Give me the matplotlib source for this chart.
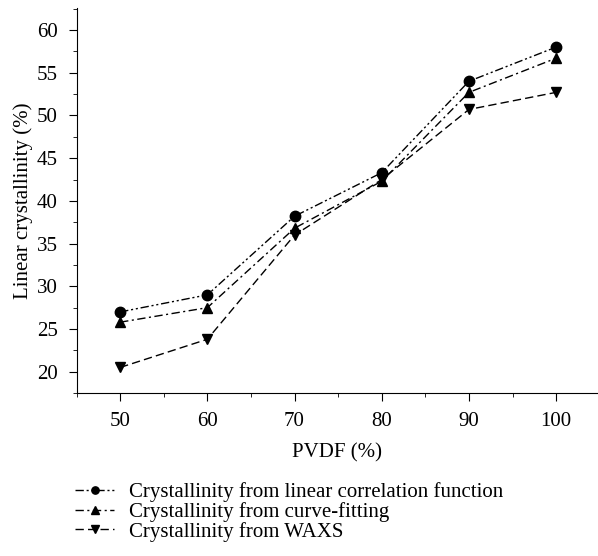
import matplotlib
matplotlib.use('Agg')
import matplotlib.pyplot as plt
from matplotlib.ticker import MultipleLocator

plt.rcParams['font.family'] = ['Liberation Serif', 'DejaVu Serif']
plt.rcParams['font.size'] = 15

# data
pvdf = [50, 60, 70, 80, 90, 100]
linear_corr = [27.0, 29.0, 38.2, 43.3, 54.0, 58.0]
curve_fit = [25.8, 27.5, 36.8, 42.3, 52.7, 56.7]
waxs = [20.5, 23.8, 36.0, 42.5, 50.7, 52.7]

fig = plt.figure(figsize=(5.98, 5.56), dpi=100)
ax = fig.add_axes([0.128, 0.293, 0.872, 0.693])

l1, = ax.plot(pvdf, linear_corr, color='black', lw=1, marker='o', ms=7.5,
              dashes=[6, 2, 1.5, 2, 1.5, 2],
              label='Crystallinity from linear correlation function')
l2, = ax.plot(pvdf, curve_fit, color='black', lw=1, marker='^', ms=7.5,
              dashes=[6, 2.5, 1.5, 2.5],
              label='Crystallinity from curve-fitting')
l3, = ax.plot(pvdf, waxs, color='black', lw=1, marker='v', ms=7.5,
              dashes=[6, 3],
              label='Crystallinity from WAXS')

ax.set_xlim(45, 104.8)
ax.set_ylim(17.5, 62.6)
ax.xaxis.set_major_locator(MultipleLocator(10))
ax.xaxis.set_minor_locator(MultipleLocator(5))
ax.yaxis.set_major_locator(MultipleLocator(5))
ax.yaxis.set_minor_locator(MultipleLocator(2.5))
ax.set_yticks([20, 25, 30, 35, 40, 45, 50, 55, 60])
ax.spines['top'].set_visible(False)
ax.spines['right'].set_visible(False)
ax.tick_params(which='both', direction='out')
ax.tick_params(which='major', length=5.5, pad=8, labelsize=15)
ax.tick_params(which='minor', length=3)

ax.set_xlabel('PVDF (%)', fontsize=15, labelpad=9)
ax.set_ylabel('Linear crystallinity (%)', fontsize=15, labelpad=3)

fig.legend(handles=[l1, l2, l3], loc='upper left', bbox_to_anchor=(0.125, 0.133),
           frameon=False, fontsize=15, handlelength=1.9, markerscale=0.7,
           labelspacing=0.0, handletextpad=0.72, borderpad=0,
           borderaxespad=0)

fig.savefig('out.png', dpi=100)
